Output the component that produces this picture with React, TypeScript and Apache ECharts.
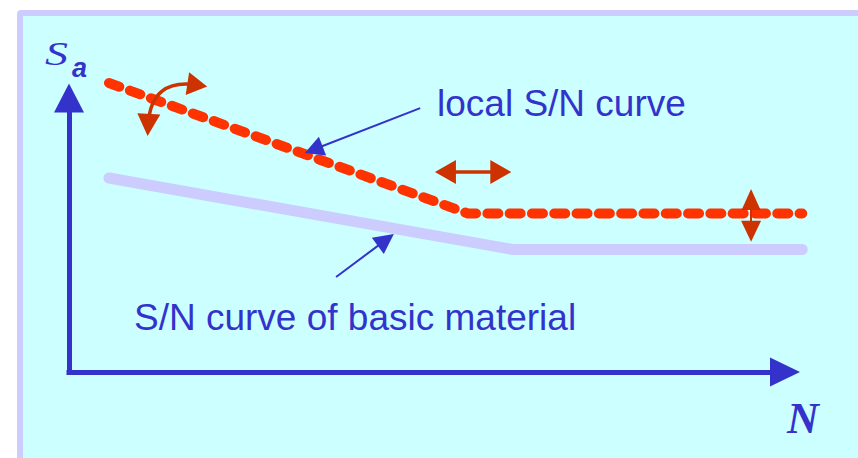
import React, { useEffect, useRef } from "react";
import * as echarts from "echarts";

// Axis domain (abstract units: N along x, S_a along y)
const xDomain = [0, 10];
const yDomain = [0, 10];

// Curves: [N, Sa]
const localCurve: [number, number][] = [
  [0.57, 11.16],
  [5.69, 6.12],
  [10.46, 6.12],
];
const basicCurve: [number, number][] = [
  [0.57, 7.49],
  [6.33, 4.73],
  [10.46, 4.73],
];

// Annotation arrows: [from, to]
const rotateArrow: [number, number][] = [[1.13, 9.54], [1.83, 11.08]];
const shiftArrow: [number, number][] = [[5.37, 7.72], [6.16, 7.72]];
const levelArrow: [number, number][] = [[9.73, 6.66], [9.73, 5.43]];
const localPointer: [number, number][] = [[5.01, 10.19], [3.49, 8.59]];
const basicPointer: [number, number][] = [[3.81, 3.67], [4.52, 5.1]];

// Texts
const yAxisName = ["S", "a"];
const xAxisName = "N";
const localLabel = "local S/N curve";
const basicLabel = "S/N curve of basic material";

const BLUE = "#3333CC";
const RED = "#FF3300";
const DARK_RED = "#CC3300";
const LAVENDER = "#CCCCFF";
const CYAN = "#CCFFFF";

export default function App() {
  const ref = useRef<HTMLDivElement>(null);

  useEffect(() => {
    if (!ref.current) return;
    const chart = echarts.init(ref.current, undefined, { renderer: "svg" });

    const axisCommon = {
      type: "value" as const,
      axisTick: { show: false },
      axisLabel: { show: false },
      splitLine: { show: false },
    };

    const option: any = {
      animation: false,
      backgroundColor: "#ffffff",
      grid: { left: 69, right: 88, top: 113, bottom: 86, containLabel: false },
      xAxis: {
        ...axisCommon,
        min: xDomain[0],
        max: xDomain[1],
        axisLine: {
          show: true,
          onZero: false,
          symbol: ["none", "triangle"],
          symbolSize: [29, 30],
          symbolOffset: [0, 15],
          lineStyle: { color: BLUE, width: 5, cap: "square" },
        },
      },
      yAxis: {
        ...axisCommon,
        min: yDomain[0],
        max: yDomain[1],
        axisLine: {
          show: true,
          onZero: false,
          symbol: ["none", "triangle"],
          symbolSize: [30, 29],
          symbolOffset: [0, 15],
          lineStyle: { color: BLUE, width: 5, cap: "square" },
        },
      },
      graphic: [
        {
          type: "rect",
          z: -20,
          silent: true,
          shape: { x: 17, y: 10, width: 900, height: 500, r: 4 },
          style: { fill: LAVENDER },
        },
        {
          type: "rect",
          z: -19,
          silent: true,
          shape: { x: 23, y: 16, width: 900, height: 500 },
          style: { fill: CYAN },
        },
        {
          type: "text",
          z: 50,
          x: 45,
          y: 53.5,
          scaleX: 1.35,
          style: {
            text: yAxisName[0],
            fill: BLUE,
            fontFamily: "Liberation Serif",
            fontStyle: "italic",
            fontSize: 34,
            verticalAlign: "middle",
          },
        },
        {
          type: "text",
          z: 50,
          style: {
            text: yAxisName[1],
            x: 72,
            y: 67.5,
            fill: BLUE,
            fontFamily: "Liberation Sans",
            fontStyle: "italic",
            fontWeight: "bold",
            fontSize: 27,
            verticalAlign: "middle",
          },
        },
        {
          type: "text",
          z: 50,
          style: {
            text: xAxisName,
            x: 787,
            y: 418,
            fill: BLUE,
            fontFamily: "Liberation Serif",
            fontStyle: "italic",
            fontWeight: "bold",
            fontSize: 44,
            verticalAlign: "middle",
          },
        },
        {
          type: "text",
          z: 50,
          style: {
            text: localLabel,
            x: 437,
            y: 103.5,
            fill: BLUE,
            fontFamily: "Liberation Sans",
            fontSize: 37,
            verticalAlign: "middle",
          },
        },
        {
          type: "text",
          z: 50,
          style: {
            text: basicLabel,
            x: 134,
            y: 317.5,
            fill: BLUE,
            fontFamily: "Liberation Sans",
            fontSize: 37,
            verticalAlign: "middle",
          },
        },
      ],
      series: [
        {
          name: "S/N curve of basic material",
          type: "lines",
          coordinateSystem: "cartesian2d",
          polyline: true,
          clip: false,
          silent: true,
          z: 2,
          symbol: "none",
          lineStyle: { color: LAVENDER, width: 11, opacity: 1, cap: "round", join: "miter" },
          data: [{ coords: basicCurve }],
        },
        {
          name: "local S/N curve",
          type: "lines",
          coordinateSystem: "cartesian2d",
          polyline: true,
          clip: false,
          silent: true,
          z: 3,
          symbol: "none",
          lineStyle: {
            color: RED,
            width: 10,
            opacity: 1,
            type: [11, 11.3],
            cap: "round",
            join: "round",
          },
          data: [{ coords: localCurve }],
        },
        {
          name: "shift arrows",
          type: "lines",
          coordinateSystem: "cartesian2d",
          clip: false,
          silent: true,
          z: 4,
          symbol: ["triangle", "triangle"],
          lineStyle: { color: DARK_RED, width: 3.5, opacity: 1 },
          data: [
            {
              coords: rotateArrow,
              symbolSize: [[23, 22], [23, 20]],
              lineStyle: { curveness: 0.55, width: 3.5 },
            },
            {
              coords: shiftArrow,
              symbolSize: [[24, 21], [24, 21]],
              lineStyle: { width: 3.5 },
            },
            {
              coords: levelArrow,
              symbolSize: [[19, 21], [20, 21]],
              lineStyle: { width: 2 },
            },
          ],
        },
        {
          name: "pointers",
          type: "lines",
          coordinateSystem: "cartesian2d",
          clip: false,
          silent: true,
          z: 5,
          symbol: ["none", "triangle"],
          lineStyle: { color: BLUE, width: 2, opacity: 1 },
          data: [
            { coords: localPointer, symbolSize: [[1, 1], [20, 19]] },
            { coords: basicPointer, symbolSize: [[1, 1], [20, 20]] },
          ],
        },
      ],
    };

    chart.setOption(option);
    return () => chart.dispose();
  }, []);

  return (
    <div
      ref={ref}
      style={{ position: "absolute", left: 0, top: 0, width: 858, height: 458 }}
    />
  );
}
